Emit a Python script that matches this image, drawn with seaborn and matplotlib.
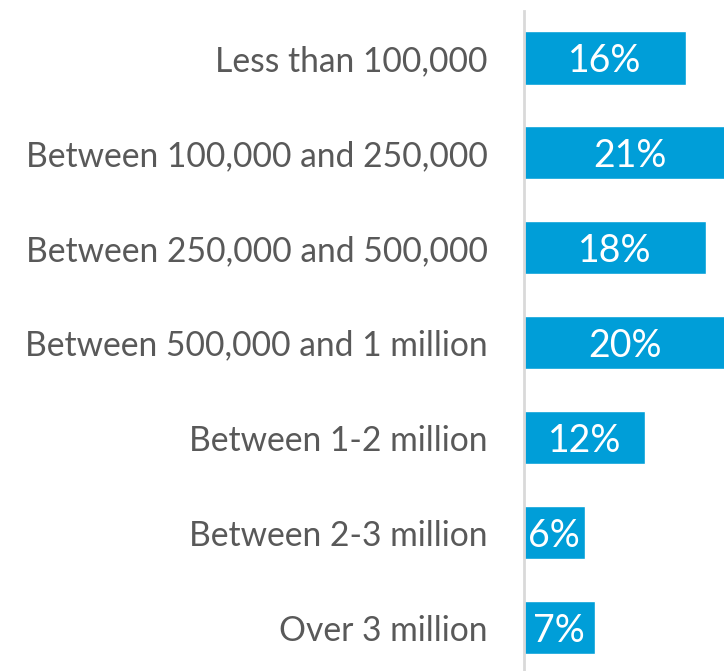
import matplotlib
matplotlib.use("Agg")
import matplotlib.pyplot as plt
import seaborn as sns
import pandas as pd

categories = [
    "Less than 100,000",
    "Between 100,000 and 250,000",
    "Between 250,000 and 500,000",
    "Between 500,000 and 1 million",
    "Between 1-2 million",
    "Between 2-3 million",
    "Over 3 million",
]
shares = [16, 21, 18, 20, 12, 6, 7]

df = pd.DataFrame({"category": categories, "share": shares})

sns.set_theme(style="white")
plt.rcParams["font.family"] = ["Lato", "DejaVu Sans"]

fig = plt.figure(figsize=(7.24, 6.71), dpi=100)
ax = fig.add_axes([524 / 724, 0, 200 / 724, 660 / 671])

sns.barplot(data=df, x="share", y="category", orient="h", color="#009ed8",
            saturation=1, width=0.56, ax=ax)

ax.set_xlim(0, 19.8)
ax.set_ylim(6.458, -0.495)

for i, v in enumerate(shares):
    ax.text(v / 2, i, f"{v}%", ha="center", va="center_baseline",
            color="white", fontsize=27)

ax.set_xlabel("")
ax.set_ylabel("")
ax.set_xticks([])
ax.tick_params(axis="y", length=0, pad=26, labelsize=24.2, labelcolor="#595959")
for s in ["top", "right", "bottom"]:
    ax.spines[s].set_visible(False)
ax.spines["left"].set_color("#d9d9d9")
ax.spines["left"].set_linewidth(2)

fig.savefig("out.png", dpi=100)
